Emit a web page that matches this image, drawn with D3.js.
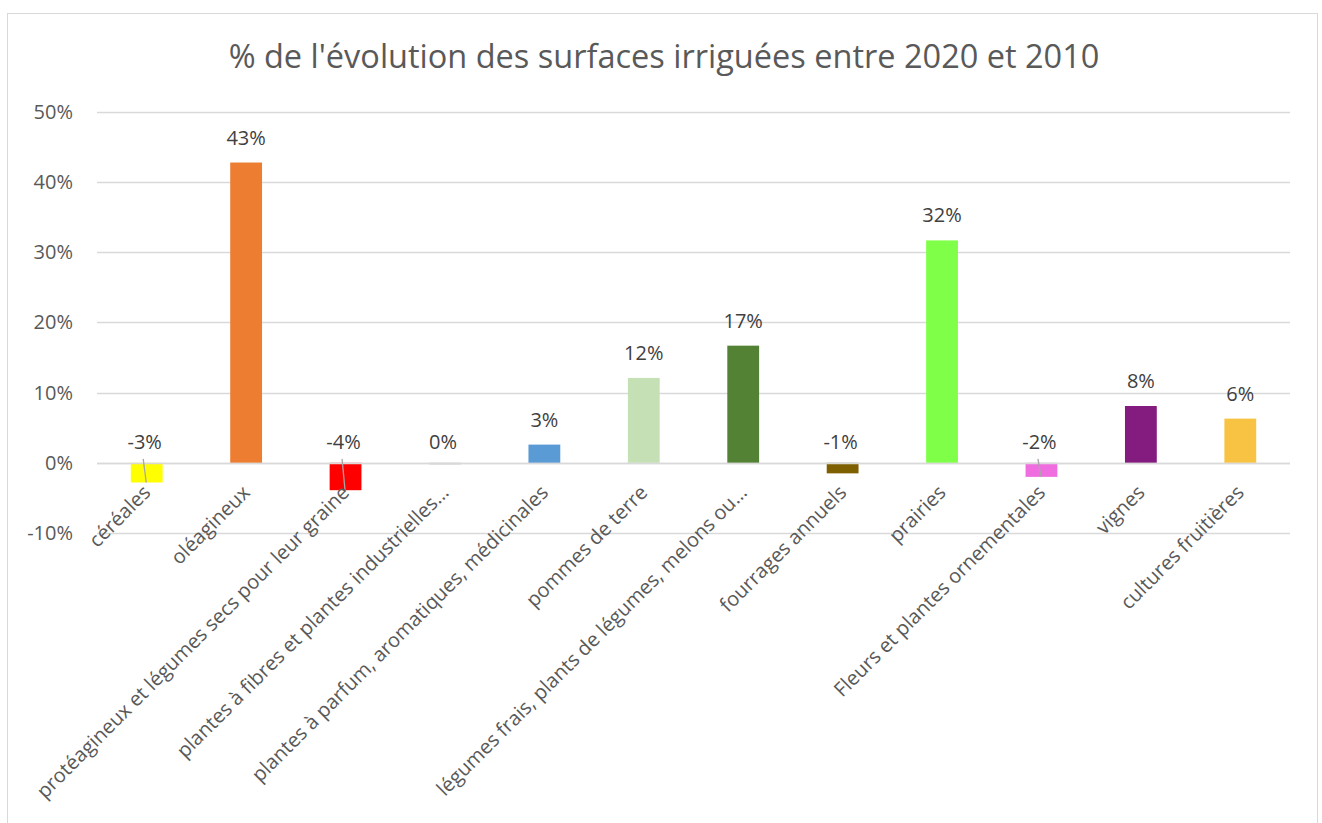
<!DOCTYPE html>
<html>
<head>
<meta charset="utf-8">
<script src="https://cdn.jsdelivr.net/npm/d3@7"></script>
<style>
  body { margin: 0; background: #fff; }
  text { font-family: "Open Sans", "Noto Sans", sans-serif; }
</style>
</head>
<body>
<div id="chart"></div>
<script>
// categories and values (% change of irrigated area 2010 -> 2020)
var categories = [
    "céréales",
    "oléagineux",
    "protéagineux et légumes secs pour leur graine",
    "plantes à fibres et plantes industrielles…",
    "plantes à parfum, aromatiques, médicinales",
    "pommes de terre",
    "légumes frais, plants de légumes, melons ou…",
    "fourrages annuels",
    "prairies",
    "Fleurs et plantes ornementales",
    "vignes",
    "cultures fruitières"
]
var values = [-0.028, 0.428, -0.039, -0.002, 0.026, 0.121, 0.167, -0.015, 0.317, -0.020, 0.081, 0.063]
var labels = ["-3%", "43%", "-4%", "0%", "3%", "12%", "17%", "-1%", "32%", "-2%", "8%", "6%"]
var colors = ["#ffff00", "#ed7d31", "#ff0000", "#a5a5a5", "#5b9bd5", "#c5e0b4", "#548235", "#7f6000", "#80ff48", "#f06de0", "#841b7f", "#f8c342"]
var leader = [true, false, true, false, false, false, false, false, false, true, false, false]
var yTicks = [-0.1, 0, 0.1, 0.2, 0.3, 0.4, 0.5]

var data = categories.map(function(c, i) {
    return { cat: c, value: values[i], label: labels[i], color: colors[i], leader: leader[i] }
})

var width = 1322, height = 823
var margin = { top: 112, right: 32, bottom: 291, left: 97 }

var svg = d3.select("#chart").append("svg")
    .attr("width", width)
    .attr("height", height)

// chart frame
svg.append("rect")
    .attr("x", 7.5).attr("y", 13.5)
    .attr("width", 1310).attr("height", 830)
    .attr("fill", "#fff")
    .attr("stroke", "#d9d9d9")

svg.append("text")
    .attr("x", 664).attr("y", 68)
    .attr("text-anchor", "middle")
    .style("font-size", "32.5px")
    .style("fill", "#595959")
    .text("% de l'évolution des surfaces irriguées entre 2020 et 2010")

var x = d3.scaleBand()
    .domain(categories)
    .range([margin.left, width - margin.right])
    .paddingInner(0.68)
    .paddingOuter(0.34)

var y = d3.scaleLinear()
    .domain([-0.1, 0.5])
    .range([height - margin.bottom + 1, margin.top])

// gridlines
svg.append("g")
    .selectAll("line")
    .data(yTicks)
    .enter().append("line")
    .attr("x1", margin.left).attr("x2", width - margin.right)
    .attr("y1", function(d) { return Math.round(y(d)) + 0.5 })
    .attr("y2", function(d) { return Math.round(y(d)) + 0.5 })
    .attr("stroke", "#d9d9d9")
    .attr("stroke-width", 1.5)

// y axis labels
var yAxis = d3.axisLeft(y).tickValues(yTicks).tickFormat(function(d) { return Math.round(d * 100) + "%" }).tickSize(0).tickPadding(24)
var gy = svg.append("g")
    .attr("transform", "translate(" + margin.left + ",0)")
    .call(yAxis)
gy.select(".domain").remove()
gy.selectAll("text")
    .style("font-size", "20px")
    .style("font-family", "'Open Sans', sans-serif")
    .style("fill", "#595959")

// bars
svg.append("g")
    .selectAll("rect")
    .data(data)
    .enter().append("rect")
    .attr("x", function(d) { return x(d.cat) })
    .attr("width", x.bandwidth())
    .attr("y", function(d) { return y(Math.max(0, d.value)) })
    .attr("height", function(d) { return Math.abs(y(d.value) - y(0)) })
    .attr("fill", function(d) { return d.color })

// zero line on top
svg.append("line")
    .attr("x1", margin.left).attr("x2", width - margin.right)
    .attr("y1", Math.round(y(0)) + 0.5).attr("y2", Math.round(y(0)) + 0.5)
    .attr("stroke", "#d9d9d9")
    .attr("stroke-width", 1.5)

// leader lines for negative labels
svg.append("g")
    .selectAll("line")
    .data(data.filter(function(d) { return d.leader }))
    .enter().append("line")
    .attr("x1", function(d) { return x(d.cat) + x.bandwidth() / 2 - 3.5 })
    .attr("y1", y(0) - 4)
    .attr("x2", function(d) { return x(d.cat) + x.bandwidth() / 2 - 0.5 })
    .attr("y2", function(d) { return y(d.value) })
    .attr("stroke", "#a6a6a6")
    .attr("stroke-width", 1.3)

// data labels
svg.append("g")
    .selectAll("text")
    .data(data)
    .enter().append("text")
    .attr("x", function(d) { return x(d.cat) + x.bandwidth() / 2 - (d.value < 0 ? 2 : 0) })
    .attr("y", function(d) { return d.value >= 0 ? y(d.value) - 18 : y(0) - 14 })
    .attr("text-anchor", "middle")
    .style("font-size", "20px")
    .style("fill", "#404040")
    .text(function(d) { return d.label })

// category labels, rotated
svg.append("g")
    .selectAll("text")
    .data(categories)
    .enter().append("text")
    .attr("transform", function(d) {
        return "translate(" + (x(d) + x.bandwidth() / 2 + 5) + "," + (y(0) + 31) + ") rotate(-45)"
    })
    .attr("text-anchor", "end")
    .style("font-size", "20px")
    .style("fill", "#595959")
    .text(function(d) { return d })
</script>
</body>
</html>
